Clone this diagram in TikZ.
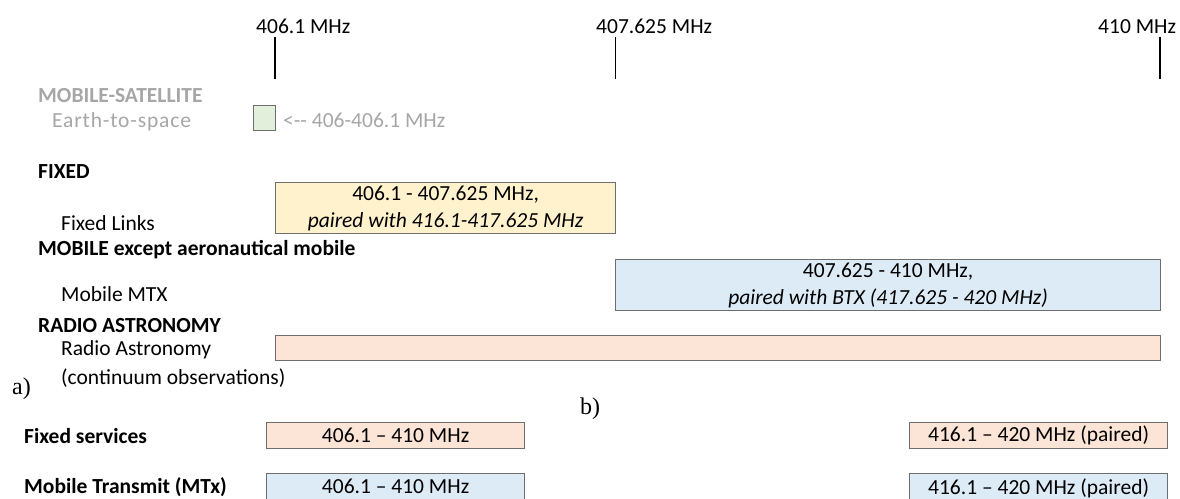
\documentclass[tikz,border=0pt]{standalone}
\usepackage{fontspec}
\setmainfont{Carlito}
\newfontfamily\serifabc{Liberation Serif}
\newfontfamily\spacedfont[LetterSpace=4]{Carlito}
\definecolor{graytxt}{HTML}{A6A6A6}
\definecolor{greenfill}{HTML}{E2EFDA}
\definecolor{yellowfill}{HTML}{FFF2CC}
\definecolor{bluefill}{HTML}{DDEBF7}
\definecolor{pinkfill}{HTML}{FCE4D6}
\definecolor{bordergray}{HTML}{6E6E6E}
\begin{document}
\begin{tikzpicture}[x=1pt,y=-1pt,
  lbl/.style={anchor=base west, inner sep=0pt, font=\fontsize{21.5}{26}\selectfont},
  hd/.style={anchor=base west, inner sep=0pt, font=\fontsize{21.5}{26}\selectfont\bfseries},
  ghd/.style={hd, text=graytxt},
  glbl/.style={lbl, text=graytxt},
  abc/.style={anchor=base west, inner sep=0pt, font=\fontsize{24}{28}\serifabc},
  band/.style={draw=bordergray, line width=1.2pt, inner sep=0pt, anchor=north west,
    align=center, font=\fontsize{21.5}{27}\selectfont}]
\useasboundingbox (0,0) rectangle (1180,498);

% frequency labels and ticks
\node[lbl] (f1) at (256,33) {406.1 MHz};
\node[lbl] (f2) at (596,33) {407.625 MHz};
\node[lbl] (f3) at (1098,33) {410 MHz};
\coordinate (t1a) at (275,37); \coordinate (t1b) at (275,79);
\coordinate (t2a) at (615,37); \coordinate (t2b) at (615,79);
\coordinate (t3a) at (1160,37); \coordinate (t3b) at (1160,79);
\draw[line width=1.6pt] (t1a) -- (t1b);
\draw[line width=1pt] (t2a) -- (t2b);
\draw[line width=1.4pt] (t3a) -- (t3b);

% mobile-satellite
\node[ghd] (ms) at (38,102) {MOBILE-SATELLITE};
\node[glbl, font=\fontsize{21.5}{26}\spacedfont] (es) at (52,127) {Earth-to-space};
\node[band, fill=greenfill, minimum width=22, minimum height=25] (gb) at (253,105) {};
\node[glbl] (gl) at (283,127) {<-{}- 406-406.1 MHz};

% fixed
\node[hd] (fx) at (38,178) {FIXED};
\node[lbl] (fl) at (61,230) {Fixed Links};
\node[band, fill=yellowfill, minimum width=340, minimum height=51] (yb) at (275,182)
  {406.1 - 407.625 MHz,\\ \textit{paired with 416.1-417.625 MHz}};

% mobile
\node[hd] (mb) at (38,255) {MOBILE except aeronautical mobile};
\node[lbl] (mm) at (61,301) {Mobile MTX};
\node[band, fill=bluefill, minimum width=545, minimum height=51] (bb) at (615,259)
  {407.625 - 410 MHz,\\ \textit{paired with BTX (417.625 - 420 MHz)}};

% radio astronomy
\node[hd] (ra) at (38,332) {RADIO ASTRONOMY};
\node[lbl] (rl) at (61,355) {Radio Astronomy};
\node[lbl] (rc) at (61,384) {(continuum observations)};
\node[band, fill=pinkfill, minimum width=885, minimum height=25] (pb) at (275,335) {};

% panel labels
\node[abc] (la) at (12,394) {a)};
\node[abc] (lb) at (580,414) {b)};

% part b
\node[hd] (fs) at (24,443) {Fixed services};
\node[hd] (mt) at (24,493) {Mobile Transmit (MTx)};
\node[band, fill=pinkfill, minimum width=258, minimum height=26] (p1) at (266,422) {406.1 -- 410 MHz};
\node[band, fill=pinkfill, minimum width=258, minimum height=26] (p2) at (909,422) {416.1 -- 420 MHz (paired)};
\node[band, fill=bluefill, minimum width=258, minimum height=40, text depth=14pt] (b1) at (266,473) {406.1 -- 410 MHz};
\node[band, fill=bluefill, minimum width=258, minimum height=40, text depth=14pt] (b2) at (909,473) {416.1 -- 420 MHz (paired)};
\end{tikzpicture}
\end{document}
